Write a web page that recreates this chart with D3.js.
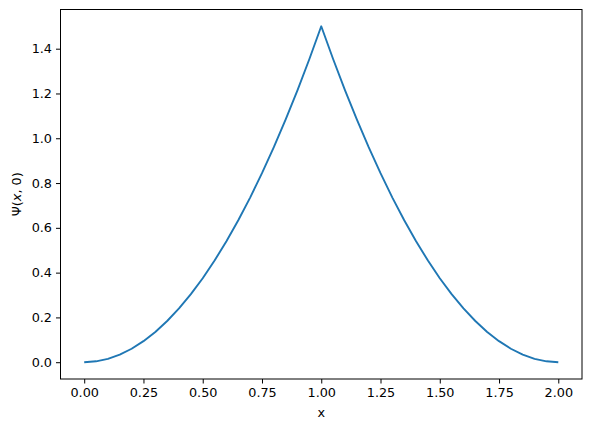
<!DOCTYPE html>
<html>
<head>
<meta charset="UTF-8">
<title>psi</title>
<style>
  body { margin: 0; background: #fff; }
  text { font-family: "DejaVu Sans", sans-serif; fill: #000; }
</style>
</head>
<body>
<svg width="591" height="429"></svg>
<script src="https://cdn.jsdelivr.net/npm/d3@7"></script>
<script>
// values
var xs = [0, 0.05, 0.1, 0.15, 0.2, 0.25, 0.3, 0.35, 0.4, 0.45, 0.5,
          0.55, 0.6, 0.65, 0.7, 0.75, 0.8, 0.85, 0.9, 0.95, 1.0,
          1.05, 1.1, 1.15, 1.2, 1.25, 1.3, 1.35, 1.4, 1.45, 1.5,
          1.55, 1.6, 1.65, 1.7, 1.75, 1.8, 1.85, 1.9, 1.95, 2.0];
var psi = [0, 0.004, 0.015, 0.034, 0.06, 0.094, 0.135, 0.184, 0.24, 0.304, 0.375,
           0.454, 0.54, 0.634, 0.735, 0.844, 0.96, 1.084, 1.215, 1.354, 1.5,
           1.354, 1.215, 1.084, 0.96, 0.844, 0.735, 0.634, 0.54, 0.454, 0.375,
           0.304, 0.24, 0.184, 0.135, 0.094, 0.06, 0.034, 0.015, 0.004, 0];
var xTicks = [0, 0.25, 0.5, 0.75, 1.0, 1.25, 1.5, 1.75, 2.0];
var yTicks = [0, 0.2, 0.4, 0.6, 0.8, 1.0, 1.2, 1.4];

var svg = d3.select("svg");
var m = {left: 60.5, right: 582, top: 9.5, bottom: 379};

var x = d3.scaleLinear().domain([-0.1, 2.1]).range([m.left, m.right]);
var y = d3.scaleLinear().domain([-0.075, 1.575]).range([m.bottom, m.top]);

var pts = xs.map(function(d, i) { return [d, psi[i]]; });

var line = d3.line()
  .x(function(d) { return x(d[0]); })
  .y(function(d) { return y(d[1]); });

svg.append("path")
  .datum(pts)
  .attr("d", line)
  .attr("fill", "none")
  .attr("stroke", "#1f77b4")
  .attr("stroke-width", 1.9)
  .attr("stroke-linejoin", "round");

// axes
var xAxis = d3.axisBottom(x).tickValues(xTicks).tickFormat(d3.format(".2f"))
  .tickSize(4.5).tickPadding(4);
var yAxis = d3.axisLeft(y).tickValues(yTicks).tickFormat(d3.format(".1f"))
  .tickSize(4.5).tickPadding(4);

var gx = svg.append("g").attr("transform", "translate(0," + m.bottom + ")").call(xAxis);
var gy = svg.append("g").attr("transform", "translate(" + m.left + ",0)").call(yAxis);
[gx, gy].forEach(function(g) {
  g.select(".domain").remove();
  g.selectAll("line").attr("stroke", "#000").attr("stroke-width", 1);
  g.selectAll("text").style("font-family", "DejaVu Sans").style("font-size", "12.8px").attr("fill", "#000");
});

// frame
svg.append("rect")
  .attr("x", m.left).attr("y", m.top)
  .attr("width", m.right - m.left).attr("height", m.bottom - m.top)
  .attr("fill", "none").attr("stroke", "#000").attr("stroke-width", 1);

// labels
svg.append("text")
  .attr("x", (m.left + m.right) / 2).attr("y", 417)
  .attr("text-anchor", "middle")
  .style("font-size", "12.8px")
  .text("x");

var yl = svg.append("text")
  .attr("transform", "translate(21," + ((m.top + m.bottom) / 2) + ") rotate(-90)")
  .attr("text-anchor", "middle")
  .style("font-size", "12.8px");
yl.append("tspan").text("Ψ(");
yl.append("tspan").style("font-style", "italic").text("x");
yl.append("tspan").text(", 0)");
</script>
</body>
</html>
